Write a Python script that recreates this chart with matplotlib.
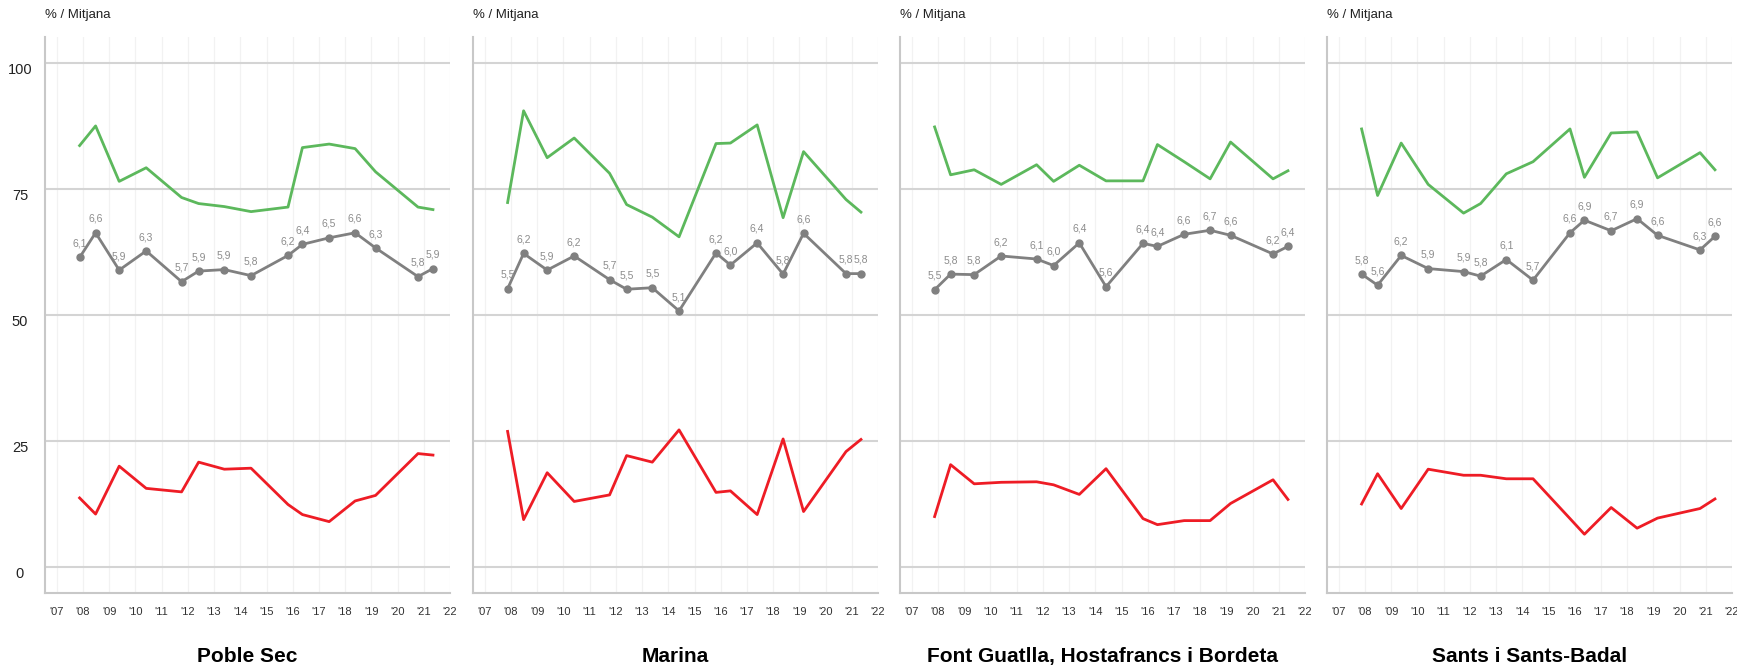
import matplotlib
matplotlib.use("Agg")
import matplotlib.pyplot as plt

plt.rcParams['font.family'] = ['Liberation Sans', 'DejaVu Sans']

# survey dates (decimal years), shared by all districts
dates = [2007.87, 2008.48, 2009.38, 2010.41, 2011.76, 2012.41, 2013.39, 2014.41,
         2015.82, 2016.37, 2017.39, 2018.38, 2019.16, 2020.78, 2021.35]

districts = ["Poble Sec", "Marina", "Font Guatlla, Hostafrancs i Bordeta", "Sants i Sants-Badal"]

# green line (%)
green_poble = [83.6, 87.5, 76.5, 79.2, 73.3, 72.1, 71.5, 70.5, 71.4, 83.2, 83.9, 83.0, 78.4, 71.4, 70.9]
green_marina = [72.3, 90.5, 81.2, 85.1, 78.1, 71.9, 69.4, 65.5, 84.0, 84.1, 87.7, 69.3, 82.4, 72.9, 70.4]
green_font = [87.3, 77.8, 78.8, 75.9, 79.8, 76.5, 79.7, 76.6, 76.6, 83.8, 80.4, 77.0, 84.3, 77.0, 78.6]
green_sants = [86.9, 73.7, 84.1, 75.9, 70.2, 72.1, 78.0, 80.4, 86.9, 77.3, 86.1, 86.3, 77.2, 82.2, 78.8]

# red line (%)
red_poble = [13.7, 10.5, 20.0, 15.6, 14.9, 20.8, 19.4, 19.6, 12.4, 10.4, 9.0, 13.1, 14.2, 22.5, 22.2]
red_marina = [26.9, 9.4, 18.7, 13.0, 14.3, 22.1, 20.8, 27.2, 14.8, 15.1, 10.4, 25.4, 11.0, 22.9, 25.3]
red_font = [10.0, 20.3, 16.5, 16.8, 16.9, 16.3, 14.4, 19.5, 9.6, 8.4, 9.2, 9.2, 12.6, 17.3, 13.4]
red_sants = [12.5, 18.5, 11.6, 19.4, 18.2, 18.2, 17.5, 17.5, 9.6, 6.5, 11.8, 7.7, 9.7, 11.6, 13.5]

# mitjana (0-10), drawn x10 on the same scale
mean_poble = [6.14, 6.63, 5.89, 6.27, 5.66, 5.87, 5.90, 5.78, 6.18, 6.40, 6.53, 6.63, 6.33, 5.76, 5.92]
mean_marina = [5.52, 6.22, 5.89, 6.17, 5.70, 5.51, 5.54, 5.08, 6.23, 5.99, 6.43, 5.81, 6.62, 5.82, 5.82]
mean_font = [5.50, 5.81, 5.80, 6.17, 6.11, 5.98, 6.43, 5.56, 6.42, 6.36, 6.60, 6.68, 6.58, 6.21, 6.36]
mean_sants = [5.81, 5.59, 6.18, 5.92, 5.86, 5.77, 6.10, 5.69, 6.63, 6.88, 6.67, 6.91, 6.58, 6.29, 6.56]

greens = [green_poble, green_marina, green_font, green_sants]
reds = [red_poble, red_marina, red_font, red_sants]
means = [mean_poble, mean_marina, mean_font, mean_sants]

years = list(range(2007, 2023))
year_labels = ["'" + str(y)[2:] for y in years]
yticks = [0, 25, 50, 75, 100]

W, H = 1737, 665
fig = plt.figure(figsize=(W / 100, H / 100), dpi=100)

lefts = [45, 473, 900, 1327]
pw = 405
top, bottom = 36.7, 592.7

for i in range(4):
    ax = fig.add_axes([lefts[i] / W, (H - bottom) / H, pw / W, (bottom - top) / H])
    ax.set_xlim(2006.55, 2022.0)
    ax.set_ylim(-5.1, 105.2)

    # grid
    for y in yticks:
        ax.axhline(y, color='#d4d4d4', lw=1.5, zorder=1)
    for x in years:
        ax.axvline(x, color='#f2f2f2', lw=0.9, zorder=0)

    ax.plot(dates, greens[i], color='#5cb85c', lw=2.0, zorder=3)
    ax.plot(dates, reds[i], color='#ee1c25', lw=2.0, zorder=3)
    m10 = [v * 10 for v in means[i]]
    ax.plot(dates, m10, color='#808080', lw=2.0, marker='o', ms=5, zorder=4)
    for x, v in zip(dates, means[i]):
        ax.annotate(f"{v:.1f}".replace('.', ','), (x, v * 10), xytext=(0, 10),
                    textcoords='offset points', ha='center', va='center',
                    fontsize=7.5, color='#8c8c8c', zorder=5)

    for s in ['top', 'right']:
        ax.spines[s].set_visible(False)
    for s in ['left', 'bottom']:
        ax.spines[s].set_color('#c8c8c8')
        ax.spines[s].set_linewidth(1.5)

    ax.set_xticks(years)
    ax.set_xticklabels(year_labels)
    ax.tick_params(axis='x', length=0, pad=10, labelsize=8, labelcolor='#333333')

    ax.set_yticks(yticks)
    if i == 0:
        ax.set_yticklabels([str(y) for y in yticks])
        ax.tick_params(axis='y', length=0, pad=18, labelsize=10.5, labelcolor='#222222')
        for lbl in ax.get_yticklabels():
            lbl.set_ha('center')
            lbl.set_va('top')
    else:
        ax.tick_params(axis='y', length=0, labelleft=False)

    ax.text(0, 1.039, "% / Mitjana", transform=ax.transAxes, ha='left', va='center',
            fontsize=9.5, color='#222222')
    ax.text(0.5, -0.114, districts[i], transform=ax.transAxes, ha='center', va='center',
            fontsize=15, fontweight='bold', color='black')

fig.savefig("out.png", dpi=100)
